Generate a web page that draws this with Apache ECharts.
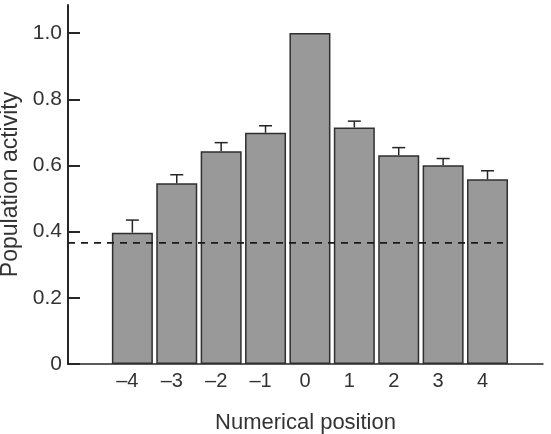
<!DOCTYPE html>
<html>
<head>
<meta charset="utf-8">
<script src="https://cdn.jsdelivr.net/npm/echarts@6/dist/echarts.min.js"></script>
<style>
  html, body { margin: 0; padding: 0; background: #fff; }
  #chart { width: 551px; height: 434px; }
</style>
</head>
<body>
<div id="chart"></div>
<script>
// 数据
var positions = [-4, -3, -2, -1, 0, 1, 2, 3, 4];
var xTickLabels = ['–4', '–3', '–2', '–1', '0', '1', '2', '3', '4'];
var activity = [0.397, 0.546, 0.643, 0.699, 1.0, 0.715, 0.631, 0.601, 0.558];
var errorTop = [0.435, 0.572, 0.669, 0.720, null, 0.734, 0.654, 0.621, 0.584];
var yTicks = [0, 0.2, 0.4, 0.6, 0.8, 1.0];
var yTickLabels = ['0', '0.2', '0.4', '0.6', '0.8', '1.0'];
var chanceLevel = 0.366;
var chanceRange = [-5.45, 4.35];

var textColor = '#333333';
var lineColor = '#262626';
var fontFamily = '"Liberation Sans", Arial, Helvetica, sans-serif';

var el = echarts.init(document.getElementById('chart'));

var barData = positions.map(function (p, i) { return [p, activity[i]]; });
var errData = [];
positions.forEach(function (p, i) {
    if (errorTop[i] != null) errData.push([p, activity[i], errorTop[i]]);
});

//误差线
var renderError = function (params, api) {
    var low = api.coord([api.value(0), api.value(1)]);
    var high = api.coord([api.value(0), api.value(2)]);
    var half = 6.5;
    var style = {stroke: lineColor, lineWidth: 1.5};
    return {
        type: 'group',
        children: [
            {type: 'line', shape: {x1: low[0], y1: low[1], x2: high[0], y2: high[1]}, style: style},
            {type: 'line', shape: {x1: high[0] - half, y1: high[1], x2: high[0] + half, y2: high[1]}, style: style}
        ]
    };
};

var option = {
    animation: false,
    backgroundColor: '#fff',
    grid: {left: 68, right: 8, top: 5, bottom: 70, outerBoundsMode: 'none'},
    xAxis: {
        type: 'value',
        min: -5.45,
        max: 5.25,
        splitLine: {show: false},
        axisLine: {show: true, onZero: false, lineStyle: {color: lineColor, width: 1.5}},
        axisTick: {show: false},
        axisLabel: {
            customValues: positions,
            color: textColor,
            fontFamily: fontFamily,
            fontSize: 20,
            margin: 7,
            formatter: function (v) {
                var i = positions.indexOf(v);
                return '{a|' + (i >= 0 ? xTickLabels[i] : '') + '}';
            },
            rich: {a: {color: textColor, fontFamily: fontFamily, fontSize: 20, padding: [0, 10, 0, 0]}}
        },
        name: 'Numerical position',
        nameLocation: 'middle',
        nameGap: 48,
        nameTextStyle: {color: textColor, fontFamily: fontFamily, fontSize: 22}
    },
    yAxis: {
        type: 'value',
        min: 0,
        max: 1.085,
        splitLine: {show: false},
        axisLine: {show: true, onZero: false, lineStyle: {color: lineColor, width: 2}},
        axisTick: {show: true, inside: true, length: 12, customValues: yTicks,
            lineStyle: {color: lineColor, width: 2}},
        axisLabel: {
            customValues: yTicks,
            color: textColor,
            fontFamily: fontFamily,
            fontSize: 21,
            margin: 6,
            formatter: function (v) {
                var i = yTicks.indexOf(v);
                return i >= 0 ? yTickLabels[i] : '';
            }
        },
        name: 'Population activity',
        nameLocation: 'middle',
        nameGap: 44,
        nameTextStyle: {color: textColor, fontFamily: fontFamily, fontSize: 23}
    },
    series: [
        {
            type: 'bar',
            data: barData,
            barWidth: 41,
            itemStyle: {color: '#999999', borderColor: '#2f2f2f', borderWidth: 1.5}
        },
        {
            type: 'custom',
            data: errData,
            renderItem: renderError,
            z: 3
        },
        {
            type: 'line',
            data: [[chanceRange[0], chanceLevel], [chanceRange[1], chanceLevel]],
            symbol: 'none',
            lineStyle: {color: '#1a1a1a', width: 1.6, type: [7, 6]},
            z: 4
        }
    ]
};
el.setOption(option);
</script>
</body>
</html>
